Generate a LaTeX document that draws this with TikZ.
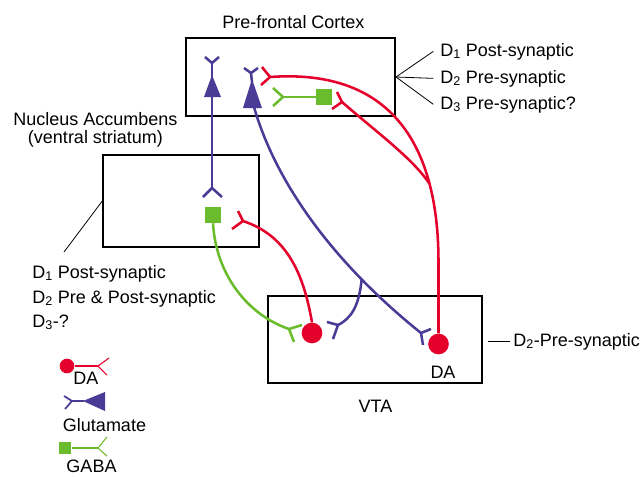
\documentclass[tikz,border=0pt]{standalone}
\usepackage{fontspec}
\setmainfont{Liberation Sans}
\usetikzlibrary{calc}
\definecolor{glublue}{RGB}{73,59,150}
\definecolor{dared}{RGB}{228,0,43}
\definecolor{gabagreen}{RGB}{107,188,44}
\def\synapse[#1](#2)(#3)(#4){\draw[#1] ($(#2)+(#3)$) -- (#2) -- ($(#2)+(#4)$);}
\tikzset{
	region/.style={line width=2.2pt, color=black},
	leader/.style={line width=0.6pt, color=black},
	glu/.style={line width=1.9pt, color=glublue},
	dopa/.style={line width=1.9pt, color=dared},
	gaba/.style={line width=1.9pt, color=gabagreen},
	dacell/.style={circle, fill=dared, inner sep=0pt, minimum size=15.5pt},
	gabacell/.style={rectangle, fill=gabagreen, inner sep=0pt, minimum size=12pt},
	lbl/.style={font=\fontsize{13.5}{16}\selectfont, inner sep=0pt},
}

\begin{document}
\begin{tikzpicture}[x=0.75pt, y=-0.75pt]
			%%%%% START %%%%%
			\useasboundingbox (0,0) rectangle (643,476);
			
			\draw[region] (186,38) rectangle (395,116);
			\draw[region] (103,155) rectangle (259,247);
			\draw[region] (268,296) rectangle (482,383);
			
			\node[lbl, anchor=base] (pfcname) at (293.5,28) {Pre-frontal Cortex};
			\node[lbl, anchor=base] (nacname) at (95.5,125) {Nucleus Accumbens};
			\node[lbl, anchor=base] (nacsub) at (95.5,143) {(ventral striatum)};
			\node[lbl, anchor=base] (vtaname) at (375.5,412) {VTA};
			
			\coordinate (pfcfan) at (396,77);
			\node[lbl, anchor=base west] (pfcd1) at (440,56) {D\textsubscript{1} Post-synaptic};
			\node[lbl, anchor=base west] (pfcd2) at (440,83) {D\textsubscript{2} Pre-synaptic};
			\node[lbl, anchor=base west] (pfcd3) at (440,109) {D\textsubscript{3} Pre-synaptic?};
			\draw[leader] (pfcfan) -- ([xshift=-5pt]pfcd1.west);
			\draw[leader] (pfcfan) -- ([xshift=-5pt]pfcd2.west);
			\draw[leader] (pfcfan) -- ([xshift=-5pt]pfcd3.west);
			
			\coordinate (nacpin) at (103,200);
			\coordinate (nacfoot) at (64,252);
			\draw[leader] (nacpin) -- (nacfoot);
			\node[lbl, anchor=base west] (nacd1) at (32,278) {D\textsubscript{1} Post-synaptic};
			\node[lbl, anchor=base west] (nacd2) at (32,303) {D\textsubscript{2} Pre \& Post-synaptic};
			\node[lbl, anchor=base west] (nacd3) at (32,327) {D\textsubscript{3}-?};
			
			\coordinate (vtapin) at (488,341);
			\node[lbl, anchor=base west] (vtad2) at (513,346) {D\textsubscript{2}-Pre-synaptic};
			\draw[leader] (vtapin) -- ([xshift=-2pt]vtad2.west |- vtapin);
			
			% glutamate, pre-frontal to accumbens
			\coordinate (pyrA) at (212,63);
			\coordinate (pyrAbase) at (212,97);
			\coordinate (nacglu) at (212,188);
			\synapse[glu](pyrA)(-7,-6)(7,-6)
			\draw[glu] (pyrA) -- (212,77);
			\fill[glublue] (212,75) -- (204,97) -- (221,97) -- cycle;
			\draw[glu] (pyrAbase) -- (nacglu);
			\synapse[glu](nacglu)(-9,9)(10,9)
			
			% glutamate, pre-frontal to VTA
			\coordinate (pyrB) at (251,73);
			\coordinate (pyrBbase) at (254,107);
			\coordinate (vtagluL) at (338,325);
			\coordinate (vtagluR) at (421,333);
			\synapse[glu](pyrB)(-7,-5)(7,-5)
			\draw[glu] (pyrB) -- (252,82);
			\fill[glublue] (252,79) -- (243,108) -- (262,108) -- cycle;
			\draw[glu] (pyrBbase) .. controls (275,180) and (330,260) .. (vtagluR) coordinate[pos=0.76] (glusplit);
			\draw[glu] (glusplit) .. controls (359,305) and (352,318) .. (vtagluL);
			\synapse[glu](vtagluL)(-11,-3)(-5,14)
			\synapse[glu](vtagluR)(10,-4)(2,12)
			
			% dopamine cells
			\node[dacell] (daL) at (312,333) {};
			\node[dacell] (daR) at (438.5,344) {};
			\node[lbl, anchor=base] (daname) at (443,378) {DA};
			
			\coordinate (nacda) at (243,221);
			\synapse[dopa](nacda)(-5,-10)(-11,8)
			\draw[dopa] (nacda) .. controls (285,235) and (303,270) .. (daL.north);
			
			\coordinate (pfcdaA) at (270,77);
			\coordinate (pfcdaB) at (342,102);
			\synapse[dopa](pfcdaA)(-8,-10)(-9,8)
			\synapse[dopa](pfcdaB)(-5,-10)(-10,7)
			\draw[dopa] (daR.north) -- (438.5,260) .. controls (438,150) and (395,68) .. (pfcdaA) coordinate[pos=0.25] (dajoin);
			\draw[dopa] (pfcdaB) .. controls (380,135) and (412,158) .. (dajoin);
			
			% GABA cells
			\node[gabacell] (gabaP) at (324,97) {};
			\coordinate (pfcgaba) at (283,97);
			\draw[gaba] (gabaP.west) -- (pfcgaba);
			\synapse[gaba](pfcgaba)(-10,-9)(-10,9)
			
			\node[gabacell] (gabaN) at (213,215) {};
			\coordinate (vtagaba) at (289,329);
			\draw[gaba] (gabaN.south) .. controls (216,275) and (248,315) .. (vtagaba);
			\synapse[gaba](vtagaba)(13,-4)(5,13)
			
			% key
			\node[dacell, minimum size=11pt] (keyda) at (67,366) {};
			\coordinate (keydafork) at (98,366);
			\draw[dopa, line width=0.8pt] (keyda.east) -- (keydafork);
			\synapse[dopa, line width=0.8pt](keydafork)(11,-8)(9,9)
			\node[lbl, anchor=base] (keydaname) at (86,384) {DA};
			
			\coordinate (keyglufork) at (72,401);
			\synapse[glu, line width=1.3pt](keyglufork)(-8,-5)(-7,8)
			\draw[glu, line width=1.3pt] (keyglufork) -- (84,401);
			\fill[glublue] (83,401) -- (105,392) -- (105,411) -- cycle;
			\node[lbl, anchor=base] (keygluname) at (104.5,431) {Glutamate};
			
			\node[gabacell, minimum size=9.5pt] (keygaba) at (65,448) {};
			\coordinate (keygabafork) at (98,448);
			\draw[gaba, line width=0.8pt] (keygaba.east) -- (keygabafork);
			\synapse[gaba, line width=0.8pt](keygabafork)(9,-11)(9,8)
			\node[lbl, anchor=base] (keygabaname) at (91.5,472) {GABA};
			
			%%%%% END %%%%%
\end{tikzpicture}
\end{document}
